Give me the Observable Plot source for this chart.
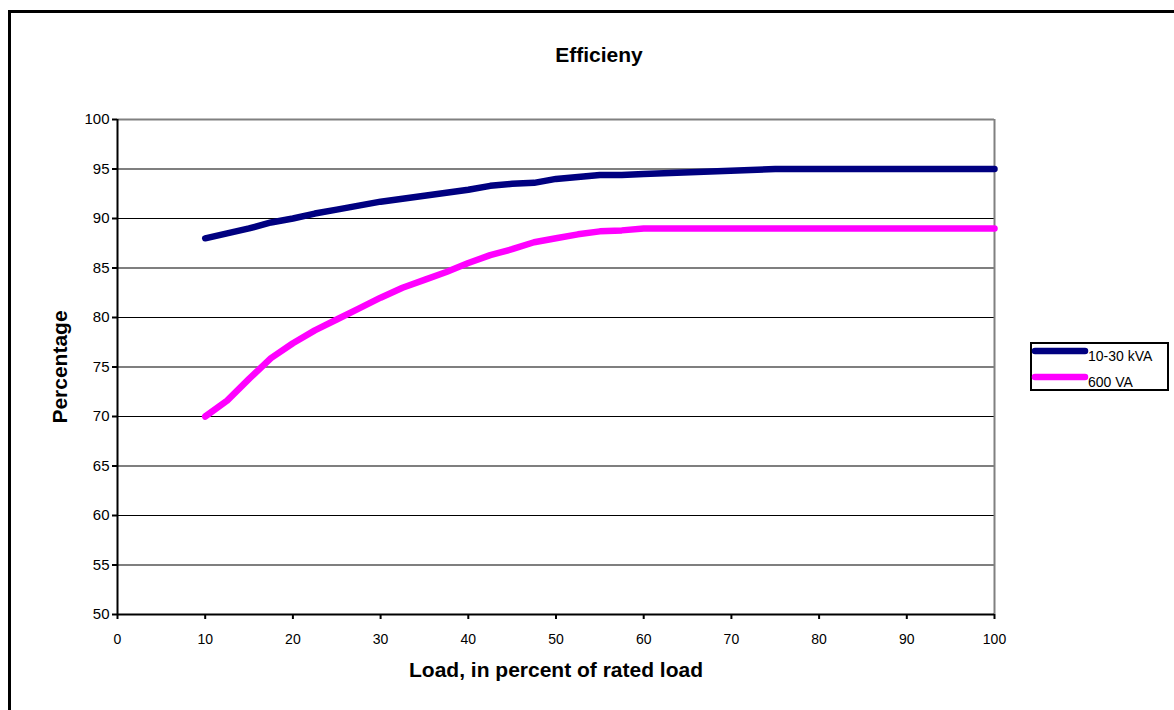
<!DOCTYPE html>
<html>
<head>
<meta charset="utf-8">
<script src="https://cdn.jsdelivr.net/npm/d3@7"></script>
<script src="https://cdn.jsdelivr.net/npm/@observablehq/plot@0.6"></script>
<style>
  html, body { margin: 0; padding: 0; background: #fff; }
  #chart { position: relative; width: 1174px; height: 710px; overflow: hidden; }
  #chart svg { display: block; }
</style>
</head>
<body>
<div id="chart"></div>
<script>
// ---- data ----
const titleText = "Efficieny";
const xLabel = "Load, in percent of rated load";
const yLabel = "Percentage";
const seriesNames = ["10-30 kVA", "600 VA"];
const seriesColors = ["#000080", "#FF00FF"];
const loads = [10, 12.5, 15, 17.5, 20, 22.5, 25, 27.5, 30, 32.5, 35, 37.5, 40, 42.5, 45, 47.5, 50, 52.5, 55, 57.5, 60, 75, 100];
const kva = [88, 88.5, 89, 89.6, 90, 90.5, 90.9, 91.3, 91.7, 92, 92.3, 92.6, 92.9, 93.3, 93.5, 93.6, 94, 94.2, 94.4, 94.4, 94.5, 95, 95];
const va = [70, 71.6, 73.8, 75.9, 77.4, 78.7, 79.8, 80.9, 82, 83, 83.8, 84.6, 85.5, 86.3, 86.9, 87.6, 88, 88.4, 88.7, 88.8, 89, 89, 89];
const xTicks = [0, 10, 20, 30, 40, 50, 60, 70, 80, 90, 100];
const yTicks = [50, 55, 60, 65, 70, 75, 80, 85, 90, 95, 100];

const rows = [];
loads.forEach((x, i) => {
  rows.push({load: x, value: kva[i], series: seriesNames[0]});
});
loads.forEach((x, i) => {
  rows.push({load: x, value: va[i], series: seriesNames[1]});
});

const W = 1174, H = 710;
const plot = Plot.plot({
  width: W,
  height: H,
  marginLeft: 117,
  marginRight: 180,
  marginTop: 119,
  marginBottom: 96,
  style: {fontFamily: "'Liberation Sans', Arial, sans-serif", fontSize: "14px", color: "#000", background: "#fff"},
  x: {domain: [0, 100], label: null},
  y: {domain: [50, 100], label: null},
  color: {domain: seriesNames, range: seriesColors},
  marks: [
    Plot.ruleY(yTicks.filter(d => d > 50 && d < 100), {stroke: "#000", strokeWidth: 1.2}),
    Plot.ruleY([100], {stroke: "#808080", strokeWidth: 2}),
    Plot.ruleX([100], {stroke: "#808080", strokeWidth: 2}),
    Plot.axisY({ticks: yTicks, tickSize: 5, tickPadding: 3, fontSize: 15, label: null, strokeWidth: 2}),
    Plot.axisX({ticks: xTicks, tickSize: 5, tickPadding: 15, fontSize: 14, label: null, strokeWidth: 2}),
    Plot.ruleX([0], {stroke: "#000", strokeWidth: 2}),
    Plot.ruleY([50], {stroke: "#000", strokeWidth: 2}),
    Plot.line(rows, {x: "load", y: "value", z: "series", stroke: "series", strokeWidth: 6.5, strokeLinecap: "round", strokeLinejoin: "round"})
  ]
});
document.getElementById("chart").appendChild(plot);

// ---- annotations (title, axis labels, legend, frame) ----
const svg = d3.select(plot);
svg.selectAll('g[aria-label="y-axis tick label"] text').style("font-size", "15px");
const ff = "'Liberation Sans', Arial, sans-serif";
svg.append("path").attr("d", `M8,11.5H${W}M9.5,10V${H}`).attr("stroke", "#000").attr("stroke-width", 3).attr("fill", "none");
function label(t, x, y, size, bold, anchor, transform) {
  const el = svg.append("text").text(t)
    .style("font-family", ff).style("font-size", size + "px").style("font-weight", bold ? "bold" : "normal")
    .attr("fill", "#000").attr("text-anchor", anchor);
  if (transform) el.attr("transform", transform); else el.attr("x", x).attr("y", y);
  return el;
}
label(titleText, 599, 62, 21, true, "middle");
label(xLabel, 556, 677, 21, true, "middle");
label(yLabel, 0, 0, 21, true, "middle", "translate(67,367) rotate(-90)");

const lg = svg.append("g");
lg.append("rect").attr("x", 1031).attr("y", 343).attr("width", 137).attr("height", 47)
  .attr("fill", "#fff").attr("stroke", "#000").attr("stroke-width", 2);
seriesNames.forEach((name, i) => {
  const y = 351 + i * 26;
  lg.append("line").attr("x1", 1035).attr("x2", 1085).attr("y1", y).attr("y2", y)
    .attr("stroke", seriesColors[i]).attr("stroke-width", 6.5).attr("stroke-linecap", "round");
  lg.append("text").text(name).attr("x", 1088).attr("y", y + 10)
    .style("font-family", ff).style("font-size", "14px").attr("fill", "#000").attr("text-anchor", "start");
});
</script>
</body>
</html>
